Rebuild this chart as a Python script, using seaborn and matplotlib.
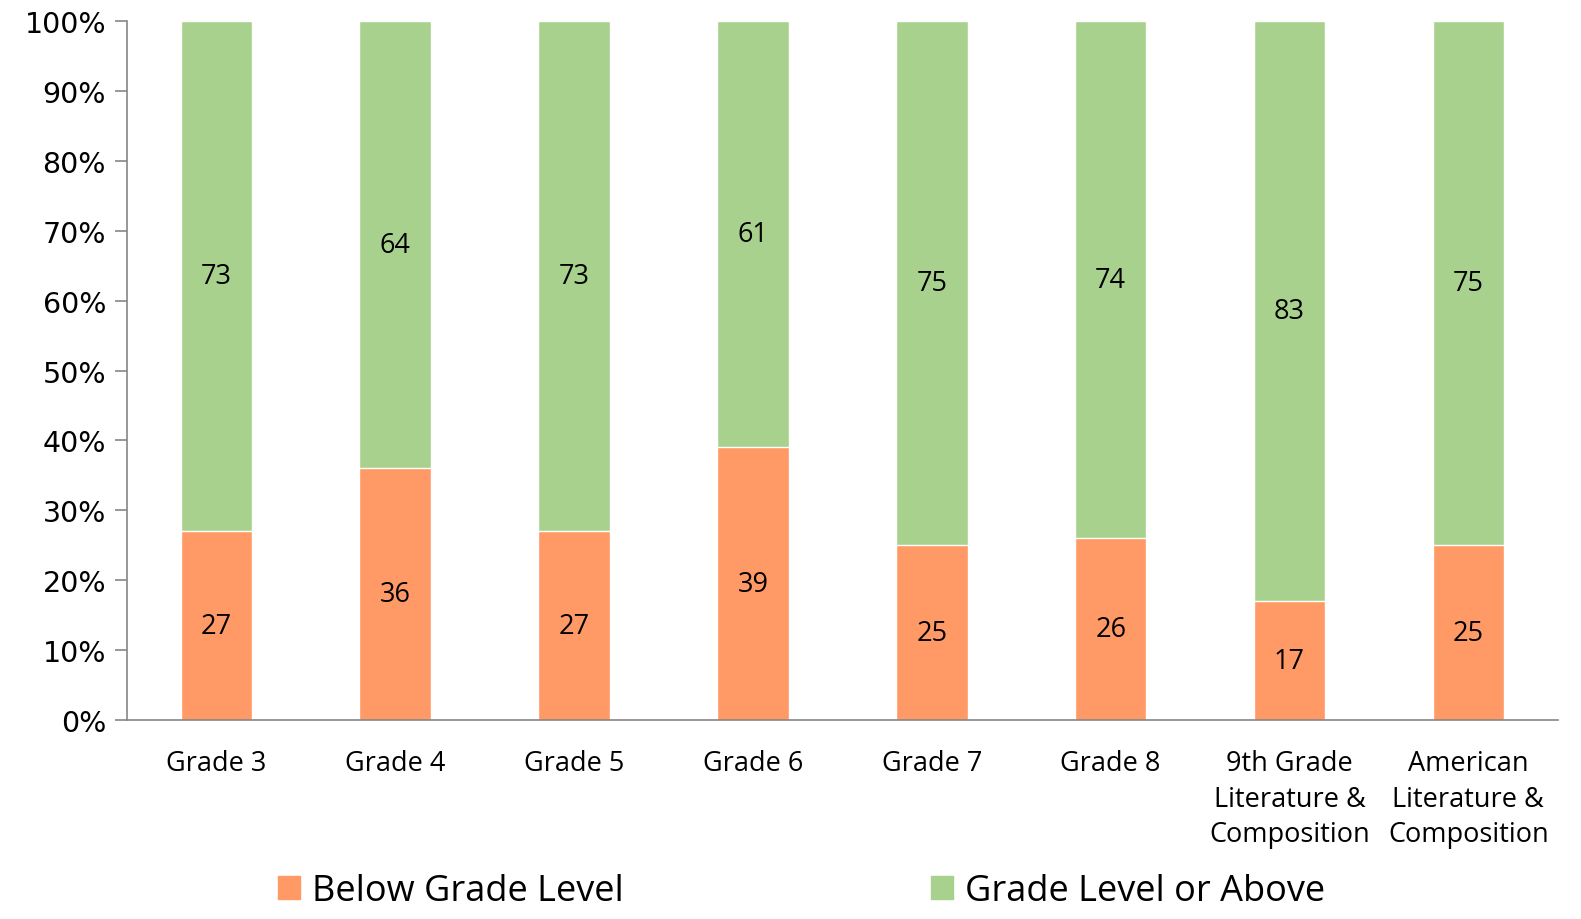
import numpy as np
import pandas as pd
import matplotlib
matplotlib.use("Agg")
import matplotlib.pyplot as plt
import seaborn as sns
from matplotlib.patches import Patch
from matplotlib.ticker import PercentFormatter

# ------------------------------------------------------------------ #
# Data
# ------------------------------------------------------------------ #
categories = ["Grade 3", "Grade 4", "Grade 5", "Grade 6", "Grade 7", "Grade 8",
              "9th Grade\nLiterature &\nComposition",
              "American\nLiterature &\nComposition"]
below = [27, 36, 27, 39, 25, 26, 17, 25]
above = [73, 64, 73, 61, 75, 74, 83, 75]

ORANGE = "#FF9966"
GREEN  = "#A9D18E"

df = pd.DataFrame({"Category": categories, "Below": below, "Above": above})
df["Total"] = df["Below"] + df["Above"]

sns.set_style("white")
plt.rcParams["font.family"] = ["Open Sans", "DejaVu Sans"]
plt.rcParams["text.color"] = "black"
plt.rcParams["xtick.color"] = "black"
plt.rcParams["ytick.color"] = "black"

fig = plt.figure(figsize=(15.81, 9.2), dpi=100)
ax = fig.add_axes([0.0803, 0.2163, 0.905, 0.7597])

# stacked: full bar in green, orange drawn over it
sns.barplot(data=df, x="Category", y="Total", color=GREEN, width=0.4,
            saturation=1, ax=ax)
sns.barplot(data=df, x="Category", y="Below", color=ORANGE, width=0.4,
            saturation=1, ax=ax)

green_bars  = ax.containers[0]
orange_bars = ax.containers[1]
ax.bar_label(orange_bars, labels=[str(v) for v in below], label_type="center",
             fontsize=19.5, color="black")
for rect, b, a in zip(green_bars, below, above):
    ax.text(rect.get_x() + rect.get_width() / 2, b + a / 2, str(a),
            ha="center", va="center", fontsize=19.5, color="black")

ax.set_ylim(0, 100)
ax.set_xlim(-0.5, len(categories) - 0.5)
ax.set_yticks(np.arange(0, 101, 10))
ax.yaxis.set_major_formatter(PercentFormatter(decimals=0))
ax.set_xlabel("")
ax.set_ylabel("")

for s in ["top", "right"]:
    ax.spines[s].set_visible(False)
for s in ["left", "bottom"]:
    ax.spines[s].set_color("#868686")
    ax.spines[s].set_linewidth(1.2)

ax.tick_params(axis="y", which="major", length=9, width=1.2, color="#868686",
               labelcolor="black", labelsize=20.5, pad=6, left=True)
for lbl in ax.get_yticklabels():
    lbl.set_family("DejaVu Sans")
ax.tick_params(axis="x", length=0, labelsize=19.5, labelcolor="black", pad=21)
for lbl in ax.get_xticklabels():
    lbl.set_linespacing(1.35)

handles = [Patch(color=ORANGE, label="Below Grade Level"),
           Patch(color=GREEN, label="Grade Level or Above")]
fig.legend(handles=handles, loc="center", ncol=2, frameon=False,
           fontsize=26, bbox_to_anchor=(0.507, 0.03), columnspacing=8.5,
           handlelength=0.6, handleheight=0.6, handletextpad=0.35,
           labelcolor="black")

fig.savefig("out.png", dpi=100)
